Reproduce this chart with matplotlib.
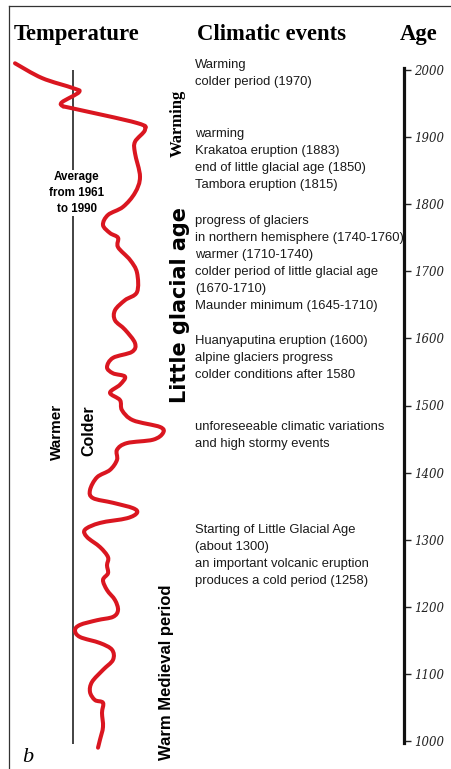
import matplotlib
matplotlib.use("Agg")
import matplotlib.pyplot as plt
from matplotlib.lines import Line2D
from matplotlib.path import Path
from matplotlib.patches import PathPatch

# picture size in pixels
W_PX, H_PX = 451, 769

# temperature curve (positive = colder than 1961-1990 mean)
years = [2010, 1988, 1973, 1967, 1952, 1946, 1943, 1921, 1911, 1893,
         1876, 1841, 1817, 1796, 1784, 1769, 1757, 1750, 1736, 1717,
         1698, 1669, 1657, 1642, 1627, 1613, 1593, 1580, 1571, 1557,
         1548, 1543, 1531, 1519, 1508, 1493, 1478, 1468, 1459, 1449,
         1444, 1434, 1419, 1404, 1393, 1374, 1362, 1355, 1347, 1340,
         1332, 1325, 1315, 1304, 1289, 1274, 1262, 1250, 1240, 1225,
         1210, 1195, 1185, 1180, 1173, 1165, 1155, 1146, 1136, 1121,
         1106, 1088, 1073, 1061, 1057, 1042, 1021, 1002, 990]
cold = [-58, -31, 0, 6, -11, -10, -1, 64, 72, 62,
        62, 67, 62, 50, 35, 30, 37, 45, 45, 57,
        64, 64, 52, 42, 42, 52, 62, 59, 40, 34,
        40, 52, 47, 37, 47, 49, 60, 87, 90, 80,
        54, 44, 44, 37, 24, 17, 20, 40, 60, 64,
        54, 27, 12, 14, 27, 35, 34, 35, 30, 34,
        42, 45, 40, 24, 7, 2, 7, 27, 39, 40,
        30, 19, 17, 22, 30, 29, 30, 27, 25]

age_ticks = [2000, 1900, 1800, 1700, 1600, 1500, 1400, 1300, 1200, 1100, 1000]

headers = ["Temperature", "Climatic events", "Age"]

event_blocks = [
    ["Warming", "colder period (1970)"],
    ["warming", "Krakatoa eruption (1883)", "end of little glacial age (1850)",
     "Tambora eruption (1815)"],
    ["progress of glaciers", "in northern hemisphere (1740-1760)", "warmer (1710-1740)",
     "colder period of little glacial age", "(1670-1710)", "Maunder minimum (1645-1710)"],
    ["Huanyaputina eruption (1600)", "alpine glaciers progress",
     "colder conditions after 1580"],
    ["unforeseeable climatic variations", "and high stormy events"],
    ["Starting of Little Glacial Age", "(about 1300)", "an important volcanic eruption",
     "produces a cold period (1258)"],
]
block_top = [65, 134, 221, 341, 427, 530]

periods = ["Warming", "Little glacial age", "Warm Medieval period"]


def fx(px):
    return px / W_PX


def fy(py):
    return 1 - py / H_PX


def year_at(py):
    # 2000 sits at 70 px, 1000 at 741 px
    return 2000 - (py - 70) * 100 / 67.1


def smooth_path(xs, ys):
    # catmull-rom through the points, drawn as cubic bezier pieces
    pts = list(zip(xs, ys))
    verts = [pts[0]]
    codes = [Path.MOVETO]
    n = len(pts)
    for i in range(n - 1):
        p0 = pts[max(i - 1, 0)]
        p1 = pts[i]
        p2 = pts[i + 1]
        p3 = pts[min(i + 2, n - 1)]
        c1 = (p1[0] + (p2[0] - p0[0]) / 6, p1[1] + (p2[1] - p0[1]) / 6)
        c2 = (p2[0] - (p3[0] - p1[0]) / 6, p2[1] - (p3[1] - p1[1]) / 6)
        verts += [c1, c2, p2]
        codes += [Path.CURVE4] * 3
    return Path(verts, codes)


fig = plt.figure(figsize=(W_PX / 100, H_PX / 100), dpi=100)
fig.patch.set_facecolor("white")

ax = fig.add_axes([0, 0, 1, 1])
ax.set_xlim(-73, W_PX - 73)
ax.set_ylim(year_at(H_PX), year_at(0))
ax.axis("off")

# mean 1961-1990 line and the curve
ax.vlines(0, 995, 2000, color="#222222", lw=1.2, zorder=1)
ax.add_patch(PathPatch(smooth_path(cold, years), fill=False, edgecolor="#da1620",
                       lw=2.9, joinstyle="round", capstyle="round", zorder=3))

# label sits on the mean line, under the curve
ax.text(fx(77), fy(193), "Average\nfrom 1961\nto 1990", transform=fig.transFigure,
        family="Liberation Sans", weight="bold", fontsize=8.4, ha="center",
        va="center", linespacing=1.4, zorder=2,
        bbox=dict(facecolor="white", edgecolor="none", pad=1))

# age scale
age_ax = fig.add_axes([fx(404), 0, 0.0001, 1])
age_ax.set_ylim(ax.get_ylim())
age_ax.set_zorder(5)
age_ax.patch.set_visible(False)
for s in ["top", "bottom", "right"]:
    age_ax.spines[s].set_visible(False)
age_ax.spines["left"].set_linewidth(2.3)
age_ax.spines["left"].set_color("#111111")
age_ax.spines["left"].set_bounds(997, 2003)
age_ax.set_xticks([])
age_ax.set_yticks(age_ticks)
age_ax.set_yticklabels([str(t) for t in age_ticks], family="DejaVu Serif",
                       style="italic", fontsize=8.5, color="#222222")
age_ax.tick_params(axis="y", left=False, labelleft=False, right=True, labelright=True,
                   direction="out", length=5, width=1, pad=2, color="#222222")

# frame
fig.add_artist(Line2D([fx(9), fx(9)], [fy(6), 0], transform=fig.transFigure,
                      color="#333333", lw=0.9))
fig.add_artist(Line2D([fx(9), 1], [fy(6), fy(6)], transform=fig.transFigure,
                      color="#333333", lw=0.9))

# headers
for txt, px in zip(headers, [14, 197, 400]):
    fig.text(fx(px), fy(40), txt, family="Liberation Serif", weight="bold",
             fontsize=16.3, va="baseline", ha="left")

# climatic events
for lines, top in zip(event_blocks, block_top):
    for i, line in enumerate(lines):
        fig.text(fx(195), fy(top + i * 17), line, family="Liberation Sans",
                 fontsize=9.4, va="center", ha="left", color="#1a1a1a", zorder=2)

# period labels
fig.text(fx(178), fy(123), periods[0], family="Liberation Serif", weight="bold",
         fontsize=12, rotation=90, ha="center", va="center")
fig.text(fx(180), fy(305), periods[1], family="DejaVu Sans", weight="bold",
         fontsize=15, rotation=90, ha="center", va="center")
fig.text(fx(166), fy(672), periods[2], family="Liberation Sans", weight="bold",
         fontsize=12, rotation=90, ha="center", va="center")

fig.text(fx(57), fy(432), "Warmer", family="Liberation Sans", weight="bold",
         fontsize=11, rotation=90, ha="center", va="center")
fig.text(fx(89), fy(431), "Colder", family="Liberation Sans", weight="bold",
         fontsize=11.5, rotation=90, ha="center", va="center")

fig.text(fx(28), fy(757), "b", family="Liberation Serif", style="italic",
         fontsize=16, ha="center", va="center")

fig.savefig("out.png", dpi=100)
